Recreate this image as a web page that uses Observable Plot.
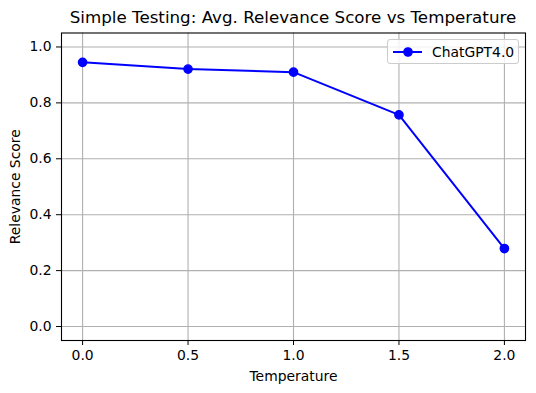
<!DOCTYPE html>
<html>
<head>
<meta charset="utf-8">
<script src="https://cdn.jsdelivr.net/npm/d3@7"></script>
<script src="https://cdn.jsdelivr.net/npm/@observablehq/plot@0.6"></script>
<style>
  html, body { margin: 0; padding: 0; background: #fff; }
  #wrap { position: relative; width: 536px; height: 393px; font-family: "DejaVu Sans", sans-serif; }
  #title { height: 32px; box-sizing: border-box; padding-top: 8px; padding-left: 61px; width: 525px;
           text-align: center; font-size: 16.7px; line-height: 19.4px; color: #000; white-space: nowrap; }
  #legend { position: absolute; left: 387px; top: 39px; width: 132px; height: 25px; box-sizing: border-box;
            border: 1px solid #cccccc; border-radius: 3px; background: rgba(255,255,255,0.8);
            display: flex; align-items: center; font-size: 13.9px; color: #000; }
  #legend svg { margin-left: 4px; margin-right: 9px; }
</style>
</head>
<body>
<div id="wrap">
  <div id="title">Simple Testing: Avg. Relevance Score vs Temperature</div>
  <div id="chart"></div>
  <div id="legend"><svg width="31" height="12"><line x1="1" x2="30" y1="6" y2="6" stroke="blue" stroke-width="2"/><circle cx="16" cy="6" r="4.15" fill="blue" stroke="blue" stroke-width="1.4"/></svg><span>ChatGPT4.0</span></div>
</div>
<script>
const temperatures = [0.0, 0.5, 1.0, 1.5, 2.0];
const scores = [0.945, 0.921, 0.910, 0.757, 0.279];
const seriesName = "ChatGPT4.0";
const xTicks = [0.0, 0.5, 1.0, 1.5, 2.0];
const yTicks = [0.0, 0.2, 0.4, 0.6, 0.8, 1.0];

const data = temperatures.map((t, i) => ({temperature: t, score: scores[i], series: seriesName}));

const chart = Plot.plot({
  width: 536,
  height: 361,
  marginTop: 0.5,
  marginLeft: 61,
  marginRight: 11,
  marginBottom: 53,
  style: {fontFamily: "DejaVu Sans", fontSize: "13.9px", color: "#000", background: "#fff"},
  x: {domain: [-0.1, 2.1], ticks: xTicks, tickFormat: d3.format(".1f"), label: "Temperature",
      labelAnchor: "center", labelArrow: "none", tickSize: 5, tickPadding: 5, labelOffset: 40},
  y: {domain: [-0.05, 1.05], ticks: yTicks, tickFormat: d3.format(".1f"), label: "Relevance Score",
      labelAnchor: "center", labelArrow: "none", tickSize: 5, tickPadding: 5, labelOffset: 51},
  marks: [
    Plot.gridX(xTicks, {stroke: "#b0b0b0", strokeOpacity: 1, strokeWidth: 1.1}),
    Plot.gridY(yTicks, {stroke: "#b0b0b0", strokeOpacity: 1, strokeWidth: 1.1}),
    Plot.frame({stroke: "#000", strokeWidth: 1.1}),
    Plot.line(data, {x: "temperature", y: "score", stroke: "blue", strokeWidth: 2}),
    Plot.dot(data, {x: "temperature", y: "score", fill: "blue", stroke: "blue", strokeWidth: 1.4, r: 4.15})
  ]
});
document.getElementById("chart").appendChild(chart);
</script>
</body>
</html>
